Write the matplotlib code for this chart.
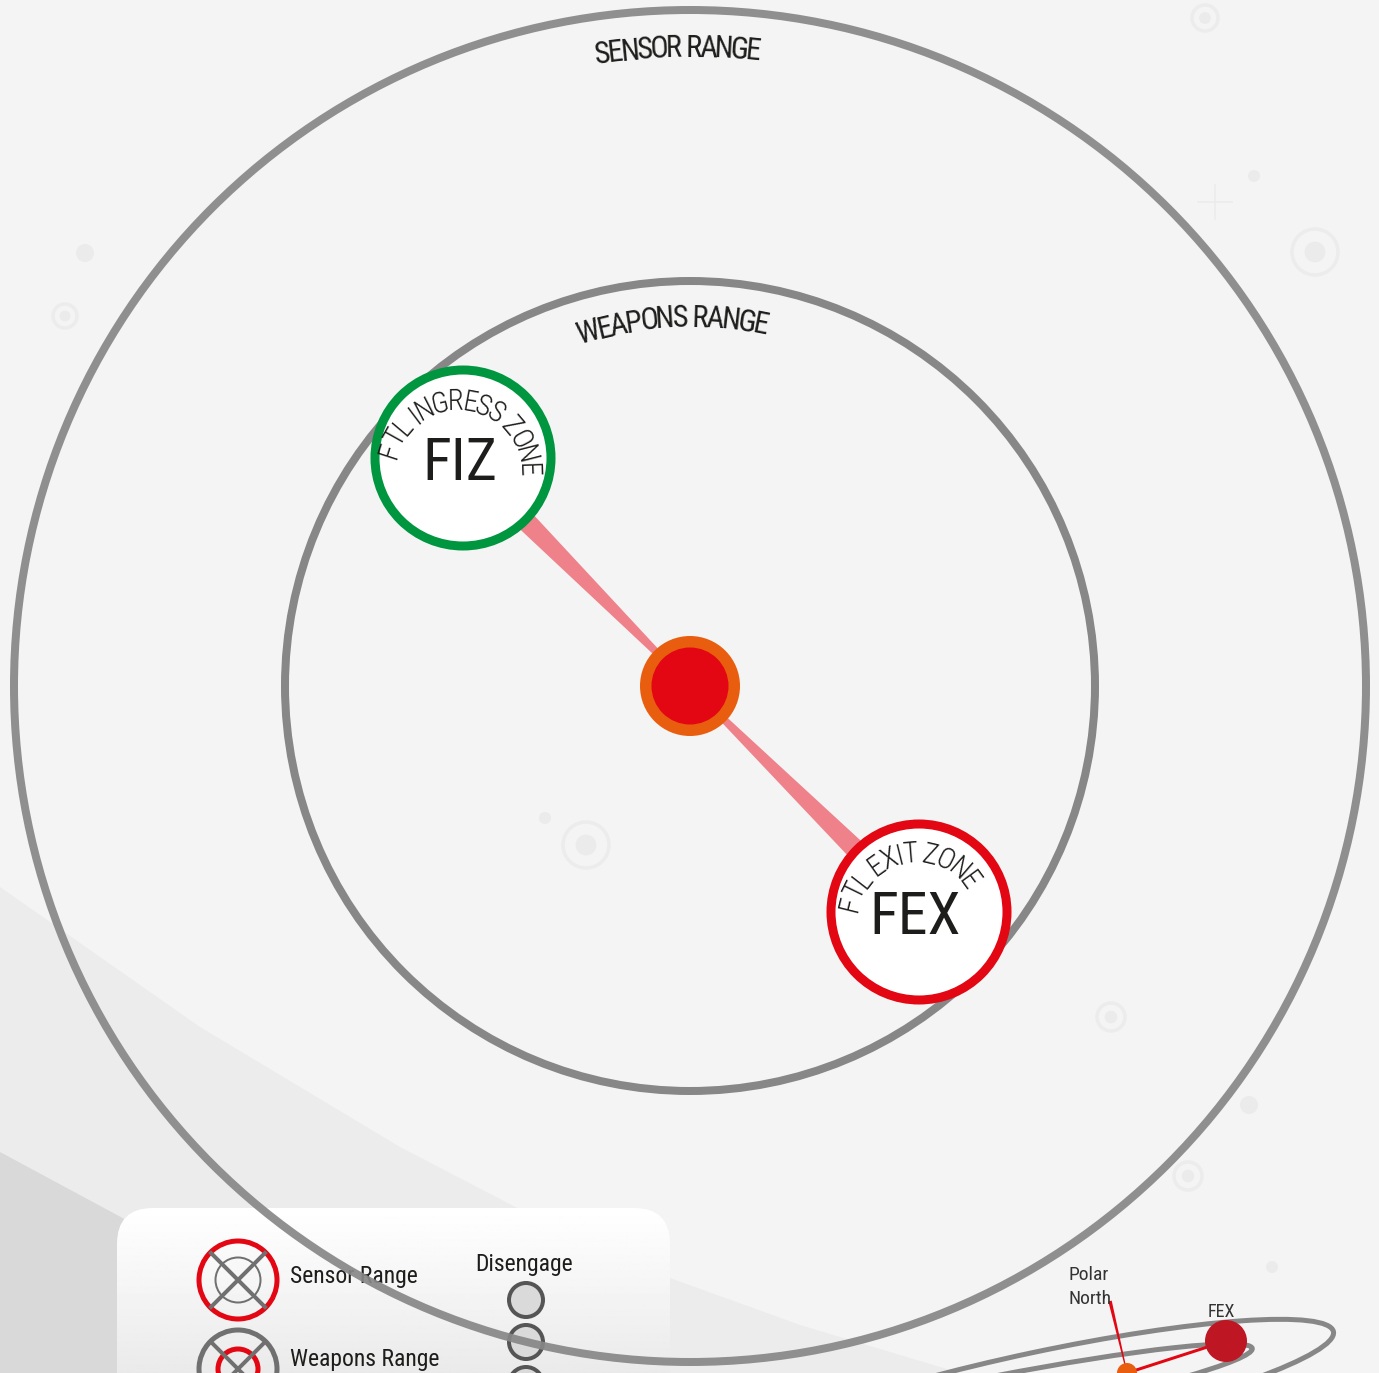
import numpy as np
import matplotlib
matplotlib.use("Agg")
import matplotlib.pyplot as plt
from matplotlib import font_manager as fm
from matplotlib.patches import Circle, Ellipse, Polygon, FancyBboxPatch
from matplotlib.textpath import text_to_path

W, H, DPI = 1379, 1373, 100
PT = 72 / DPI   # one pixel in points

BG, RING, INK = "#f4f4f4", "#878787", "#1d1d1b"
RED, GREEN, ORANGE, PINK = "#e30613", "#009640", "#e95d0f", "#ee818a"


def pick_font(names):
    for n in names:
        try:
            fm.findfont(fm.FontProperties(family=n), fallback_to_default=False)
            return n
        except ValueError:
            pass
    return "DejaVu Sans"


FONT = pick_font(["Roboto Condensed", "Liberation Sans Narrow", "Open Sans Condensed", "Roboto"])
LIGHT = 300

# Scene data (pixel space, y down)
center = (690, 686)
range_names = ["SENSOR RANGE", "WEAPONS RANGE"]
range_radii = [676, 405]
range_label_r = [629, 359]
range_label_ang = [(97.9, 84.3), (106.0, 78.9)]

zone_codes = ["FIZ", "FEX"]
zone_names = ["FTL INGRESS ZONE", "FTL EXIT ZONE"]
zone_xy = [(463, 458), (919, 912)]
zone_colors = [GREEN, RED]
zone_text_c = [(457, 472), (915, 920)]
zone_text_r = [62, 58]
zone_text_ang = [(162, 2), (166, 36)]
zone_code_base = [(460, 480), (915, 934)]

rings_bg = [(1205, 18, 13), (1315, 252, 23), (65, 316, 12), (586, 845, 23), (1111, 1017, 14), (1188, 1176, 14)]
dots_bg = [(1254, 176, 6), (85, 253, 9), (545, 818, 6), (1249, 1105, 9), (1272, 1267, 6)]
plus_bg = [(1215, 202, 17)]

band_light_x = [0, 200, 400, 550, 670, 800, 960]
band_light_y = [887, 1027, 1147, 1225, 1278, 1325, 1373]
band_dark_x = [0, 117, 300, 420]
band_dark_y = [1152, 1215, 1315, 1373]

legend_labels = ["Sensor Range", "Weapons Range"]
disengage_y = [1300, 1342, 1384]

orbit_ellipses = [(1040, 1394, 600, 84, -12), (997, 1398, 520, 44, -11)]
star_xy = (1127, 1373)
fex_dot = (1226, 1341)
polar_top = (1110, 1301)

fig = plt.figure(figsize=(W / DPI, H / DPI), dpi=DPI)
fig.patch.set_facecolor(BG)
ax = fig.add_axes([0, 0, 1, 1])
ax.set_facecolor(BG)


def taper(p0, p1, w0, w1, **kw):
    p0, p1 = np.array(p0, float), np.array(p1, float)
    d = p1 - p0
    n = np.array([-d[1], d[0]]) / np.hypot(*d)
    pts = [p0 + n * w0 / 2, p1 + n * w1 / 2, p1 - n * w1 / 2, p0 - n * w0 / 2]
    ax.add_patch(Polygon(pts, closed=True, lw=0, **kw))


def char_w(ch, prop):
    if ch == " ":
        a = text_to_path.get_text_width_height_descent("a a", prop, False)[0]
        b = text_to_path.get_text_width_height_descent("aa", prop, False)[0]
        return a - b
    return text_to_path.get_text_width_height_descent(ch, prop, False)[0]


def arc_text(cx, cy, r, text, a0, a1, size, weight="normal", z=9):
    prop = fm.FontProperties(family=FONT, size=size, weight=weight)
    w = np.array([char_w(ch, prop) for ch in text])
    c = np.cumsum(w) - w / 2
    t = (c - c[0]) / (c[-1] - c[0])
    ang = np.radians(a0 + t * (a1 - a0))
    for ch, a in zip(text, ang):
        if ch == " ":
            continue
        ax.text(cx + r * np.cos(a), cy - r * np.sin(a), ch, fontproperties=prop, color=INK,
                rotation=np.degrees(a) - 90, rotation_mode="anchor",
                ha="center", va="baseline", zorder=z)


# background bands
ax.add_patch(Polygon(list(zip(band_light_x, band_light_y)) + [(0, H)], closed=True,
                     fc="#ececec", lw=0, zorder=0))
ax.add_patch(Polygon(list(zip(band_dark_x, band_dark_y)) + [(0, H)], closed=True,
                     fc="#d9d9d9", lw=0, zorder=0.5))

# faint target marks
for x, y, r in rings_bg:
    ax.add_patch(Circle((x, y), r, fc="none", ec="#ececec", lw=3.5 * PT, zorder=1))
    ax.add_patch(Circle((x, y), r * 0.45, fc="#ebebeb", lw=0, zorder=1))
for x, y, r in dots_bg:
    ax.add_patch(Circle((x, y), r, fc="#ebebeb", lw=0, zorder=1))
for x, y, s in plus_bg:
    ax.plot([x - s, x + s], [y, y], color="#ebebeb", lw=1.5 * PT, zorder=1)
    ax.plot([x, x], [y - s, y + s], color="#ebebeb", lw=1.5 * PT, zorder=1)

# legend box with vertical gradient
box = FancyBboxPatch((117, 1208), 553, 220, boxstyle="round,pad=0,rounding_size=36",
                     fc="none", ec="none", zorder=2)
ax.add_patch(box)
grad = np.linspace(1.0, 0.89, 200).reshape(-1, 1)
im = ax.imshow(grad, cmap="gray", vmin=0, vmax=1, extent=[117, 670, 1428, 1208],
               aspect="auto", zorder=2, interpolation="bilinear")
im.set_clip_path(box)

# legend icons
gx = 238
ic = [(gx, 1280), (gx, 1369)]
ax.add_patch(Circle(ic[0], 39, fc="none", ec=RED, lw=5 * PT, zorder=3))
ax.add_patch(Circle(ic[0], 22.5, fc="none", ec="#707070", lw=2 * PT, zorder=3))
ax.add_patch(Circle(ic[1], 39, fc="none", ec="#707070", lw=5 * PT, zorder=3))
ax.add_patch(Circle(ic[1], 20, fc="none", ec=RED, lw=5 * PT, zorder=3))
for x, y in ic:
    ax.plot([x - 27, x + 27], [y - 27, y + 27], color="#707070", lw=4 * PT, zorder=3.5)
    ax.plot([x - 27, x + 27], [y + 27, y - 27], color="#707070", lw=4 * PT, zorder=3.5)
ax.text(290, 1283, legend_labels[0], family=FONT, fontsize=17, color=INK, ha="left", va="baseline", zorder=4)
ax.text(290, 1366, legend_labels[1], family=FONT, fontsize=17, color=INK, ha="left", va="baseline", zorder=4)
ax.text(524, 1271, "Disengage", family=FONT, fontsize=17, color=INK, ha="center", va="baseline", zorder=4)
for y in disengage_y:
    ax.add_patch(Circle((526, y), 17, fc="#dadada", ec="#555555", lw=4 * PT, zorder=3))

# range rings
ax.add_patch(Circle(center, range_radii[0], fc="none", ec=RING, lw=8 * PT, alpha=0.92, zorder=5))
ax.add_patch(Circle(center, range_radii[1], fc="none", ec=RING, lw=8 * PT, zorder=5))
for name, r, (a0, a1) in zip(range_names, range_label_r, range_label_ang):
    arc_text(center[0], center[1], r, name, a0, a1, 22)

# connectors, star, zones
for xy in zone_xy:
    taper(center, xy, 4, 26, fc=PINK, zorder=6)
ax.add_patch(Circle(center, 50, fc=ORANGE, lw=0, zorder=7))
ax.add_patch(Circle(center, 38.5, fc=RED, lw=0, zorder=7.5))
for xy, col in zip(zone_xy, zone_colors):
    ax.add_patch(Circle(xy, 88, fc="white", ec=col, lw=9 * PT, zorder=8))
for code, name, (tx, ty), r, (a0, a1), (bx, by) in zip(zone_codes, zone_names, zone_text_c,
                                                      zone_text_r, zone_text_ang, zone_code_base):
    arc_text(tx, ty, r, name, a0, a1, 21, weight=LIGHT)
    ax.text(bx, by, code, family=FONT, fontsize=43, color=INK,
            ha="center", va="baseline", zorder=9)

# mini orbit diagram (bottom right)
for x, y, w, h, a in orbit_ellipses:
    ax.add_patch(Ellipse((x, y), w, h, angle=a, fc="none", ec=RING, lw=5 * PT, zorder=5))
taper(polar_top, star_xy, 3.5, 1, fc=RED, zorder=6)
ax.plot([star_xy[0], fex_dot[0]], [star_xy[1], fex_dot[1]], color=RED, lw=3 * PT, zorder=6)
ax.add_patch(Circle(star_xy, 10, fc=ORANGE, lw=0, zorder=7))
ax.add_patch(Circle(fex_dot, 21, fc="#be1622", lw=0, zorder=7))
ax.text(1068, 1280, "Polar", family=FONT, fontsize=14, color="#333333", ha="left", va="baseline", zorder=9)
ax.text(1068, 1304, "North", family=FONT, fontsize=14, color="#333333", ha="left", va="baseline", zorder=9)
ax.text(1221, 1317, "FEX", family=FONT, fontsize=13, color="#333333", ha="center", va="baseline", zorder=9)

ax.set_xlim(0, W)
ax.set_ylim(H, 0)
ax.axis("off")
fig.savefig("out.png", dpi=DPI, facecolor=BG)
